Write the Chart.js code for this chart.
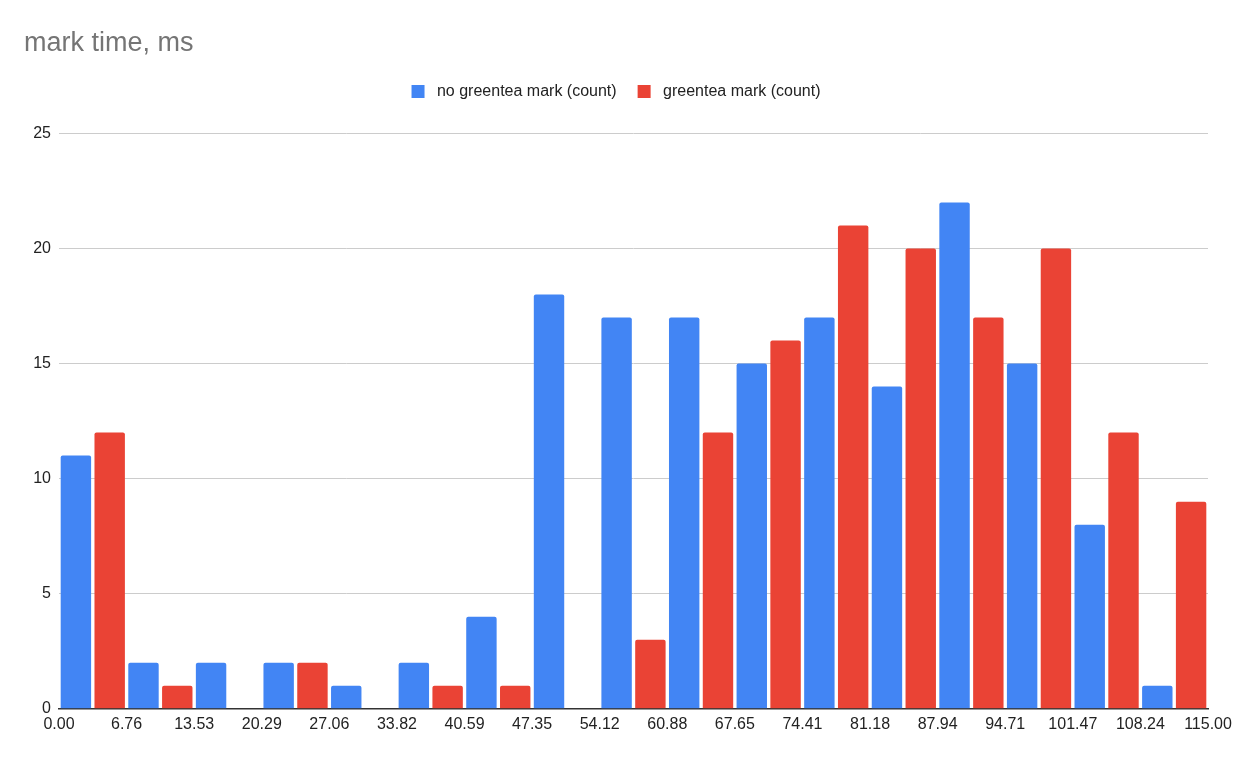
<!DOCTYPE html>
<html>
<head>
<meta charset="utf-8">
<script src="https://cdn.jsdelivr.net/npm/chart.js@4"></script>
<style>
  body { margin: 0; background: #fff; }
  #wrap { width: 1241px; height: 757px; }
</style>
</head>
<body>
<div id="wrap"><canvas id="myChart" width="1241" height="757"></canvas></div>
<script>
// histogram buckets (17 of them), edges are the tick labels
const tickLabels = ['0.00', '6.76', '13.53', '20.29', '27.06', '33.82', '40.59', '47.35', '54.12',
    '60.88', '67.65', '74.41', '81.18', '87.94', '94.71', '101.47', '108.24', '115.00'];
const buckets = tickLabels.slice(0, -1).map((t, i) => t + ' - ' + tickLabels[i + 1]);
const noGreentea = [11, 2, 2, 2, 1, 2, 4, 18, 17, 17, 15, 17, 14, 22, 15, 8, 1];
const greentea = [12, 1, 0, 2, 0, 1, 1, 0, 3, 12, 16, 21, 20, 17, 20, 12, 9];
const yTicks = [0, 5, 10, 15, 20, 25];

const font = "'Liberation Sans', Arial, sans-serif";
Chart.defaults.font.family = font;

// extra room under the legend, like the sheets chart
const legendSpacer = {
    id: 'legendSpacer',
    beforeLayout(chart) {
        const lg = chart.legend;
        if (lg && !lg._spaced) {
            const fit = lg.fit;
            lg.fit = function () {
                fit.call(this);
                this.height += 24;
            };
            lg._spaced = true;
        }
    }
};

const ctx = document.getElementById('myChart').getContext('2d');
const myChart = new Chart(ctx, {
    type: 'bar',
    data: {
        labels: buckets,
        datasets: [{
            label: 'no greentea mark (count)',
            data: noGreentea,
            backgroundColor: '#4285F4',
            borderRadius: 2,
            borderSkipped: 'start'
        }, {
            label: 'greentea mark (count)',
            data: greentea,
            backgroundColor: '#EA4335',
            borderRadius: 2,
            borderSkipped: 'start'
        }]
    },
    plugins: [legendSpacer],
    options: {
        responsive: false,
        animation: false,
        barPercentage: 0.9,
        categoryPercentage: 1.0,
        layout: { padding: { left: 24, right: 33, top: 27, bottom: 17 } },
        plugins: {
            title: {
                display: true,
                text: 'mark time, ms',
                align: 'start',
                color: '#757575',
                font: { size: 27, weight: 'normal' },
                padding: { top: 0, bottom: 3 }
            },
            legend: {
                position: 'top',
                labels: {
                    boxWidth: 13,
                    boxHeight: 13,
                    color: '#222',
                    font: { size: 16 },
                    padding: 21,
                    // a bit more space between the swatch and the text
                    generateLabels: (chart) => Chart.defaults.plugins.legend.labels.generateLabels(chart)
                        .map(l => Object.assign(l, { text: ' ' + l.text }))
                }
            },
            tooltip: { enabled: false }
        },
        scales: {
            x: {
                display: false,
                offset: true
            },
            x2: {
                type: 'linear',
                position: 'bottom',
                offset: false,
                min: 0,
                max: tickLabels.length - 1,
                afterBuildTicks: (scale) => {
                    scale.ticks = tickLabels.map((t, i) => ({ value: i }));
                },
                grid: { display: false, drawTicks: false, offset: false },
                border: { color: '#333', width: 1.5 },
                ticks: {
                    color: '#222',
                    font: { size: 16 },
                    padding: 6,
                    maxRotation: 0,
                    autoSkip: false,
                    callback: (v, i) => tickLabels[i]
                }
            },
            y: {
                min: 0,
                max: 25,
                afterBuildTicks: (scale) => {
                    scale.ticks = yTicks.map(v => ({ value: v }));
                },
                afterFit: (scale) => { scale.width = 35; },
                grid: { color: '#cccccc', drawTicks: false },
                border: { display: false },
                ticks: {
                    color: '#222',
                    font: { size: 16 },
                    padding: 8
                }
            }
        }
    }
});
</script>
</body>
</html>
